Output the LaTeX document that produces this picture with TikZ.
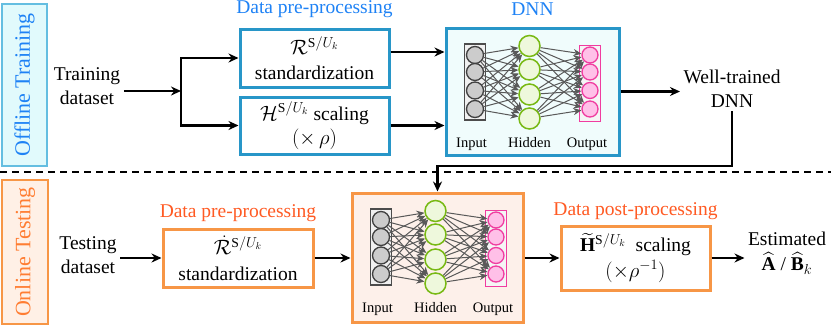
\documentclass[tikz,border=0pt]{standalone}
\usepackage{amsmath,amssymb}
\usepackage{fontspec}
\setmainfont{Liberation Serif}
\usetikzlibrary{arrows.meta,positioning}
\definecolor{offblue}{RGB}{40,150,200}
\definecolor{offtext}{RGB}{30,130,245}
\definecolor{sideblue}{RGB}{100,190,225}
\definecolor{sidefill}{RGB}{225,250,252}
\definecolor{dnnfill}{RGB}{240,252,252}
\definecolor{onorange}{RGB}{247,150,70}
\definecolor{ontext}{RGB}{255,90,35}
\definecolor{sideorange}{RGB}{255,125,50}
\definecolor{onfill}{RGB}{255,240,230}
\definecolor{dnnfillon}{RGB}{253,240,234}
\definecolor{hidgreen}{RGB}{120,185,20}
\definecolor{hidfill}{RGB}{238,248,220}
\definecolor{outpink}{RGB}{240,60,160}
\definecolor{outfill}{RGB}{255,192,232}

\tikzset{
    inbar/.style={rectangle, draw=black!70, fill=black!6, line width=1.5pt,
                  minimum width=21pt, minimum height=76pt, inner sep=0pt},
    incirc/.style={circle, draw=black!75, fill=black!20, line width=1.3pt,
                   minimum size=17pt, inner sep=0pt},
    hidcirc/.style={circle, draw=hidgreen, fill=hidfill, line width=1.5pt,
                    minimum size=21pt, inner sep=0pt},
    outbar/.style={inbar, draw=outpink, fill=black!4},
    outcirc/.style={circle, draw=outpink, fill=outfill, line width=1.3pt,
                    minimum size=16pt, inner sep=0pt},
    nnline/.style={-{Stealth[length=8pt,width=7pt]}, draw=black!65, line width=1pt},
    nnlabel/.style={anchor=base, font=\fontsize{14.5}{16}\selectfont},
    dnn/.pic={
        \node[inbar] (-ibar) at (30.5,55.5) {};
        \node[outbar] (-obar) at (145.5,57) {};
        \foreach \k/\y in {1/28.5,2/45.5,3/64,4/82.5}{
            \node[incirc] (-i\k) at (30.5,\y) {};
            \node[outcirc] (-o\k) at (145.5,\y) {};
        }
        \foreach \k/\y in {1/19.5,2/43,3/68,4/92}
            \node[hidcirc] (-h\k) at (85,\y) {};
        \foreach \a in {1,...,4}
            \foreach \b in {1,...,4}{
                \draw[nnline] (-i\a) -- (-h\b);
                \draw[nnline] (-h\a) -- (-o\b);
            }
        \node[nnlabel] (-lin) at (27,121) {Input};
        \node[nnlabel] (-lhid) at (85,121) {Hidden};
        \node[nnlabel] (-lout) at (142.5,121) {Output};
    }
}

\begin{document}
\begin{tikzpicture}[
    x=1pt, y=-1pt,
    font=\fontsize{19.5}{24}\selectfont,
    box/.style={rectangle, draw=#1, line width=3pt, fill=white,
                align=center, inner sep=2pt},
    sidebox/.style={rectangle, draw=#1, fill=#1!15, line width=1.5pt,
                    rotate=90, font=\fontsize{22}{24}\selectfont},
    arrow/.style={-{Stealth[length=10pt,width=9pt]}, line width=2.2pt},
    plain/.style={align=center},
]
    \useasboundingbox (0,0) rectangle (831,327);

    % Side panels
    \node[sidebox=sideblue, fill=sidefill, text=offtext,
          minimum width=162pt, minimum height=45pt] (offline) at (24.5,85) {Offline Training};
    \node[sidebox=onorange, fill=onfill, text=sideorange,
          minimum width=144pt, minimum height=46pt] (online) at (25,252) {Online Testing};

    % Separator
    \draw[dashed, dash pattern=on 7pt off 5pt, line width=1.8pt] (0,172) -- (831,172);

    % Offline training
    \node[plain] (train) at (87,86) {Training\\dataset};
    \coordinate (split) at (181,91);
    \node[box=offblue, minimum width=149pt, minimum height=58pt] (rstd) at (314.5,58)
        {$\mathcal{R}^{\mathrm{S}/U_k}$\\[1pt]standardization};
    \node[box=offblue, minimum width=149pt, minimum height=57pt] (hscale) at (314.5,125.5)
        {$\mathcal{H}^{\mathrm{S}/U_k}$ scaling\\$(\times\,\rho)$};
    \node[above=6pt of rstd, text=offtext] (prelab) {Data pre-processing};
    \node[box=offblue, fill=dnnfill, minimum width=173pt, minimum height=127pt] (dnnup) at (532.5,91.5) {};
    \pic (up) at (dnnup.north west) {dnn};
    \node[above=7pt of dnnup, text=offtext] (dnnlab) {DNN};
    \node[plain] (well) at (732,89) {Well-trained\\DNN};

    \draw[arrow] (train.east |- split) -- (split);
    \draw[arrow] (split) |- (rstd.west);
    \draw[arrow] (split) |- (hscale.west);
    \draw[arrow] ([yshift=6pt]rstd.east) -- ([yshift=6pt]rstd.east -| dnnup.west);
    \draw[arrow] (hscale.east) -- (hscale.east -| dnnup.west);
    \draw[arrow] (dnnup.east) -- (well.west |- dnnup.east);

    % Online testing
    \node[plain] (test) at (88,255) {Testing\\dataset};
    \node[box=onorange, minimum width=150pt, minimum height=58pt] (rdot) at (238,258)
        {$\dot{\mathcal{R}}^{\mathrm{S}/U_k}$\\[1.5pt]standardization};
    \node[above=2pt of rdot, text=ontext] (prelabon) {Data pre-processing};
    \node[box=onorange, fill=dnnfillon, minimum width=171pt, minimum height=129pt] (dnnlow) at (437.5,257.5) {};
    \pic (low) at (dnnlow.north west) {dnn};
    \node[box=onorange, minimum width=149pt, minimum height=64pt] (post) at (635.5,258)
        {$\widetilde{\mathbf{H}}^{\mathrm{S}/U_k}$\ \ scaling\\[1.5pt]$(\times\rho^{-1})$};
    \node[above=1pt of post, text=ontext] (postlab) {Data post-processing};
    \node[plain] (est) at (787,253) {Estimated\\[1.5pt]$\widehat{\mathbf{A}}$ / $\widehat{\mathbf{B}}_k$};

    \coordinate (fb) at (437.5,166);
    \draw[arrow] (well.south) |- (fb) -- (dnnlow.north);
    \draw[arrow] (test.east |- rdot.west) -- (rdot.west);
    \draw[arrow] (rdot.east) -- (rdot.east -| dnnlow.west);
    \draw[arrow] (dnnlow.east |- post.west) -- (post.west);
    \draw[arrow] (post.east) -- (post.east -| est.west);
\end{tikzpicture}
\end{document}
